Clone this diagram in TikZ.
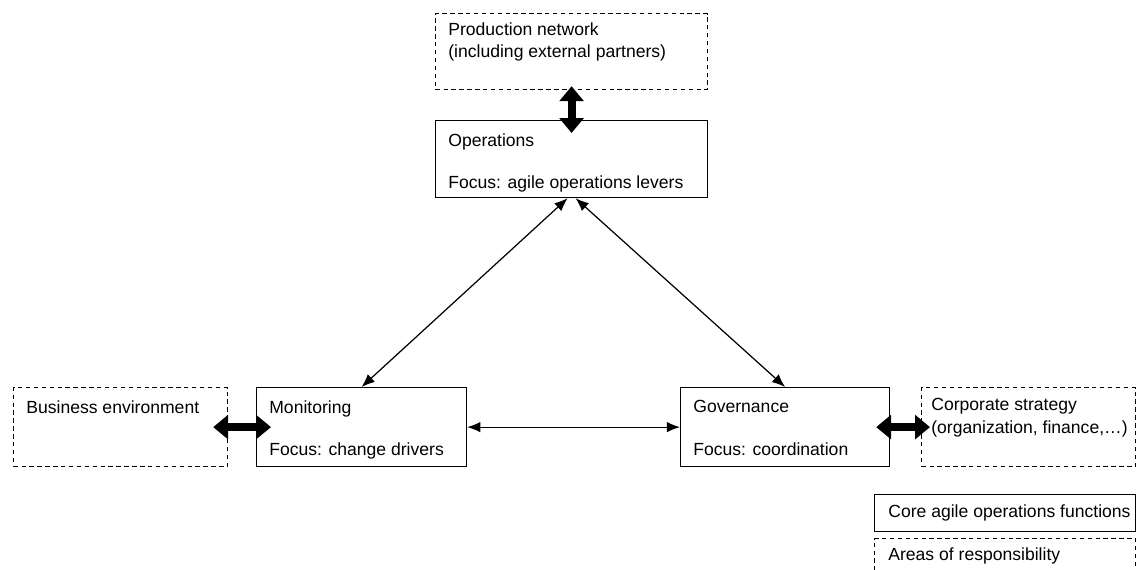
\documentclass[tikz,border=0pt]{standalone}
\usepackage{fontspec}
\setmainfont{Liberation Sans}
\usetikzlibrary{arrows.meta,positioning}
\tikzset{
	box/.style={draw,black,line width=0.7pt,anchor=north west,inner sep=0pt},
	dashbox/.style={box,dash pattern=on 2.5pt off 2pt},
	txt/.style={inner sep=0pt,align=left,font=\fontsize{10}{13}\selectfont},
	link/.style={line width=0.7pt,{Latex[length=7.5pt,width=6pt]}-{Latex[length=7.5pt,width=6pt]}},
	biglink/.style={line width=4.5pt,{Triangle[length=8.5pt,width=13.5pt]}-{Triangle[length=8.5pt,width=13.5pt]}}
}
\begin{document}
\begin{tikzpicture}[x=0.02cm,y=-0.02cm]
	\useasboundingbox (0,0) rectangle (1137,569);
	\clip (0,0) rectangle (1137,569);
	% Boxes
	\node[dashbox,minimum width=5.44cm,minimum height=1.52cm] (prod) at (435,13) {};
	\node[box,minimum width=5.44cm,minimum height=1.54cm] (ops) at (435,120) {};
	\node[dashbox,minimum width=4.28cm,minimum height=1.58cm] (env) at (13,387) {};
	\node[box,minimum width=4.2cm,minimum height=1.58cm] (mon) at (256,387) {};
	\node[box,minimum width=4.18cm,minimum height=1.58cm] (gov) at (680,387) {};
	\node[dashbox,minimum width=4.28cm,minimum height=1.58cm] (strat) at (921,387) {};
	\node[box,minimum width=5.22cm,minimum height=0.74cm] (core) at (874,494) {};
	\node[dashbox,minimum width=5.22cm,minimum height=1.5cm] (resp) at (874,538) {};
	%Labels
	\node[txt,below right=0.18cm and 0.26cm of prod.north west] (prodtxt) {Production network\\(including external partners)};
	\node[txt,below right=0.26cm and 0.26cm of ops.north west] (opstxt) {Operations\\[11.4pt]Focus: agile operations levers};
	\node[txt,below right=0.26cm and 0.26cm of env.north west] (envtxt) {Business environment};
	\node[txt,below right=0.26cm and 0.26cm of mon.north west] (montxt) {Monitoring\\[11.4pt]Focus: change drivers};
	\node[txt,below right=0.26cm and 0.26cm of gov.north west] (govtxt) {Governance\\[11.4pt]Focus: coordination};
	\node[txt,below right=0.22cm and 0.2cm of strat.north west] (strattxt) {Corporate strategy\\(organization, finance,…)};
	\node[txt,right=0.28cm of core.west] (coretxt) {Core agile operations functions};
	\node[txt,below right=0.18cm and 0.28cm of resp.north west] (resptxt) {Areas of responsibility};
	%Links
	\draw[link] ([xshift=-0.08cm]ops.south) -- (mon.north);
	\draw[link] ([xshift=0.08cm]ops.south) -- (gov.north);
	\draw[link] (mon.east) -- (gov.west);
	\draw[biglink] ([yshift=0.08cm]prod.south) -- ([yshift=-0.26cm]ops.north);
	\draw[biglink] ([xshift=-0.3cm]env.east) -- ([xshift=0.3cm]mon.west);
	\draw[biglink] ([xshift=-0.28cm]gov.east) -- ([xshift=0.18cm]strat.west);
\end{tikzpicture}
\end{document}
